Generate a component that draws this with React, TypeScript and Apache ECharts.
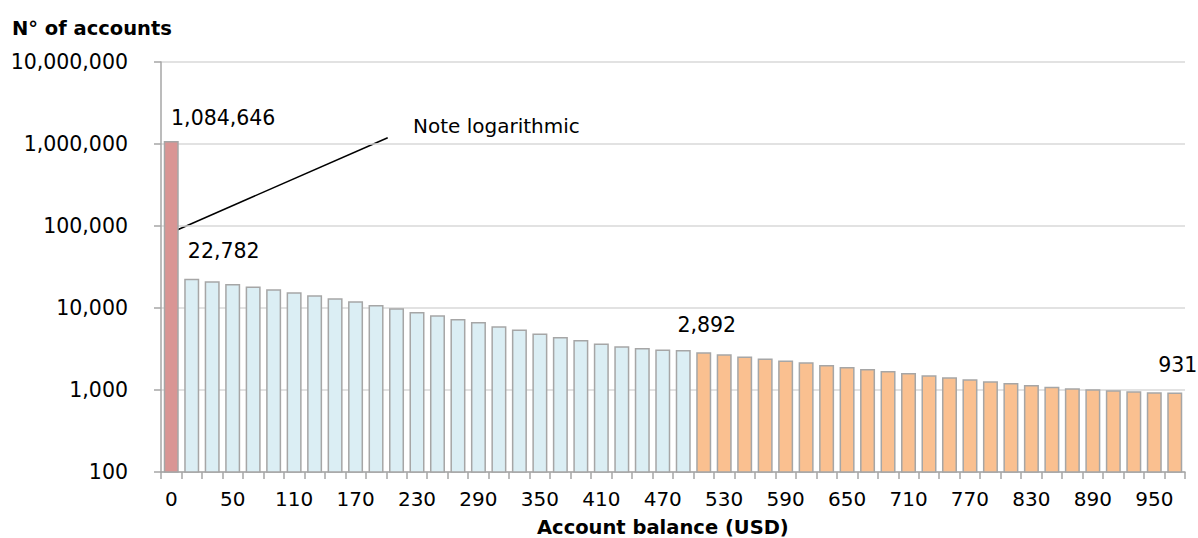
import React, { useEffect, useRef } from "react";
import * as echarts from "echarts";

const categories = [
  "0", "10", "30", "50", "70", "90", "110", "130", "150", "170",
  "190", "210", "230", "250", "270", "290", "310", "330", "350", "370",
  "390", "410", "430", "450", "470", "490", "510", "530", "550", "570",
  "590", "610", "630", "650", "670", "690", "710", "730", "750", "770",
  "790", "810", "830", "850", "870", "890", "910", "930", "950", "970",
];

const accounts = [
  1084646, 22782, 21160, 19620, 18240, 16900, 15540, 14290, 13130, 12070,
  10880, 9920, 8940, 8150, 7340, 6750, 5980, 5450, 4870, 4430,
  4070, 3680, 3410, 3250, 3110, 3075, 2892, 2720, 2570, 2415,
  2282, 2178, 2018, 1906, 1803, 1706, 1612, 1511, 1429, 1350,
  1277, 1217, 1151, 1099, 1049, 1020, 991, 964, 938, 931,
];

// category groups: "zero" balance, "low" and "high" balance
const groups = accounts.map((_, i) => (i === 0 ? "zero" : i < 26 ? "low" : "high"));

const labelledIndexes = [0, 1, 26, 49];

const yTicks = [100, 1000, 10000, 100000, 1000000, 10000000];

const FONT = "DejaVu Sans";

const groupColors: Record<string, string> = {
  zero: "#D99594",
  low: "#DBEEF4",
  high: "#FAC090",
};

const labelOffsets: Record<number, [number, number]> = {
  0: [52, -8],
  1: [32, -12],
  26: [3, -12],
  49: [3, -12],
};

export default function App() {
  const ref = useRef<HTMLDivElement>(null);
  useEffect(() => {
    if (!ref.current) return;
    const chart = echarts.init(ref.current, undefined, { renderer: "svg" });
    const fmt = (v: number) => Math.round(v).toLocaleString("en-US");
    chart.setOption({
      animation: false,
      backgroundColor: "#ffffff",
      grid: { left: 161, right: 13, top: 62, bottom: 66, containLabel: false },
      xAxis: {
        type: "category",
        data: categories,
        axisLine: { show: true, lineStyle: { color: "#A6A6A6", width: 1.5 } },
        axisTick: { show: true, interval: 0, length: 7, lineStyle: { color: "#A6A6A6", width: 1.5 } },
        axisLabel: {
          interval: 2,
          fontFamily: FONT,
          fontSize: 20,
          color: "#000",
          margin: 17,
        },
      },
      yAxis: {
        type: "log",
        logBase: 10,
        min: yTicks[0],
        max: yTicks[yTicks.length - 1],
        axisLine: { show: true, lineStyle: { color: "#A6A6A6", width: 1.5 } },
        axisTick: { show: true, length: 7, lineStyle: { color: "#A6A6A6", width: 1.5 } },
        splitLine: { show: true, lineStyle: { color: "#D9D9D9", width: 1.5 } },
        axisLabel: {
          fontFamily: FONT,
          fontSize: 20.5,
          color: "#000",
          margin: 33,
          formatter: (v: number) => fmt(v),
        },
      },
      series: [
        {
          type: "bar",
          barWidth: 15,
          data: accounts.map((v, i) => ({
            value: v,
            itemStyle: {
              color: groupColors[groups[i]],
              borderColor: "#A6A6A6",
              borderWidth: 1.5,
            },
            label: labelledIndexes.includes(i)
              ? {
                  show: true,
                  position: "top",
                  offset: labelOffsets[i],
                  fontFamily: FONT,
                  fontSize: 20.5,
                  color: "#000",
                  formatter: () => fmt(v),
                }
              : { show: false },
          })),
        },
      ],
      graphic: [
        {
          type: "text",
          left: 12,
          top: 18,
          style: {
            text: "N° of accounts",
            fontFamily: FONT,
            fontWeight: "bold",
            fontSize: 19.5,
            fill: "#000",
          },
        },
        {
          type: "text",
          left: 537,
          top: 517,
          style: {
            text: "Account balance (USD)",
            fontFamily: FONT,
            fontWeight: "bold",
            fontSize: 19.5,
            fill: "#000",
          },
        },
        {
          type: "line",
          shape: { x1: 168, y1: 234, x2: 387.7, y2: 137.7 },
          style: { stroke: "#000", lineWidth: 1.5 },
        },
        {
          type: "text",
          left: 413,
          top: 116,
          style: {
            text: "Note logarithmic",
            fontFamily: FONT,
            fontSize: 20,
            fill: "#000",
          },
        },
      ],
    });
    return () => chart.dispose();
  }, []);
  return (
    <div
      ref={ref}
      style={{ position: "fixed", left: 0, top: 0, width: 1198, height: 538 }}
    />
  );
}
